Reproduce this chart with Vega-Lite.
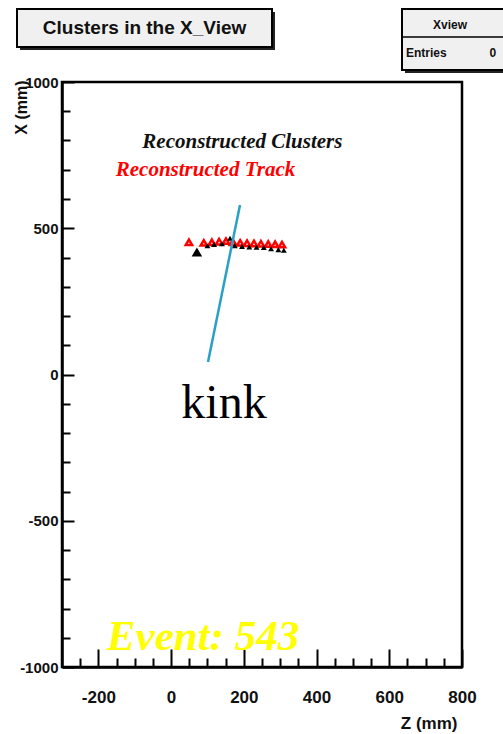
{
  "$schema": "https://vega.github.io/schema/vega-lite/v6.json",
  "width": 400,
  "height": 585,
  "autosize": {"type": "none"},
  "padding": {"left": 62, "top": 82, "right": 41, "bottom": 67},
  "background": "white",
  "config": {
    "view": {"stroke": "#000", "strokeWidth": 2.5, "fill": "white"},
    "axis": {"grid": false, "labelFlush": false, "labelOverlap": false, "domainColor": "#000", "domainWidth": 2.5, "tickColor": "#000", "tickWidth": 2}
  },
  "resolve": {"axis": {"x": "independent", "y": "independent"}},
  "layer": [
    {
      "data": {"values": [
        {"z1": -415.5, "z2": 285.75, "x1": 1239.3, "x2": 1109.4},
        {"z1": 643.25, "z2": 926.25, "x1": 1239.3, "x2": 1030.7}
      ]},
      "mark": {"type": "rect", "fill": "#222"},
      "encoding": {
        "x": {"field": "z1", "type": "quantitative", "axis": null},
        "x2": {"field": "z2"},
        "y": {"field": "x1", "type": "quantitative", "axis": null},
        "y2": {"field": "x2"}
      }
    },
    {
      "data": {"values": [
        {"z1": -423.75, "z2": 277.5, "x1": 1249.6, "x2": 1119.7},
        {"z1": 635, "z2": 918, "x1": 1249.6, "x2": 1041}
      ]},
      "mark": {"type": "rect", "fill": "#f0f0f0", "stroke": "#000", "strokeWidth": 2},
      "encoding": {
        "x": {"field": "z1", "type": "quantitative", "axis": null},
        "x2": {"field": "z2"},
        "y": {"field": "x1", "type": "quantitative", "axis": null},
        "y2": {"field": "x2"}
      }
    },
    {
      "data": {"values": [{"z1": 635, "z2": 918, "x": 1153.9}]},
      "mark": {"type": "rule", "stroke": "#000", "strokeWidth": 1.5},
      "encoding": {
        "x": {"field": "z1", "type": "quantitative", "axis": null},
        "x2": {"field": "z2"},
        "y": {"field": "x", "type": "quantitative", "axis": null}
      }
    },
    {
      "data": {"values": [{"label": "Clusters in the X_View", "z": -73, "x": 1184.6}]},
      "mark": {"type": "text", "font": "Liberation Sans", "fontWeight": "bold", "fontSize": 19, "align": "center", "baseline": "middle", "color": "#111"},
      "encoding": {
        "x": {"field": "z", "type": "quantitative", "axis": null},
        "y": {"field": "x", "type": "quantitative", "axis": null},
        "text": {"field": "label"}
      }
    },
    {
      "data": {"values": [{"label": "Xview", "z": 767, "x": 1194.9}]},
      "mark": {"type": "text", "font": "Liberation Sans", "fontWeight": "bold", "fontSize": 12, "align": "center", "baseline": "middle", "color": "#111"},
      "encoding": {
        "x": {"field": "z", "type": "quantitative", "axis": null},
        "y": {"field": "x", "type": "quantitative", "axis": null},
        "text": {"field": "label"}
      }
    },
    {
      "data": {"values": [{"label": "Entries", "z": 646, "x": 1099}]},
      "mark": {"type": "text", "font": "Liberation Sans", "fontWeight": "bold", "fontSize": 12, "align": "left", "baseline": "middle", "color": "#111"},
      "encoding": {
        "x": {"field": "z", "type": "quantitative", "axis": null},
        "y": {"field": "x", "type": "quantitative", "axis": null},
        "text": {"field": "label"}
      }
    },
    {
      "data": {"values": [{"label": "0", "z": 885, "x": 1099}]},
      "mark": {"type": "text", "font": "Liberation Sans", "fontWeight": "bold", "fontSize": 12, "align": "center", "baseline": "middle", "color": "#111"},
      "encoding": {
        "x": {"field": "z", "type": "quantitative", "axis": null},
        "y": {"field": "x", "type": "quantitative", "axis": null},
        "text": {"field": "label"}
      }
    },
    {
      "data": {"values": [{"label": "Reconstructed Clusters", "z": 196, "x": 774}]},
      "mark": {"type": "text", "font": "Liberation Serif", "fontWeight": "bold", "fontStyle": "italic", "fontSize": 21, "align": "center", "baseline": "alphabetic", "color": "#111"},
      "encoding": {
        "x": {"field": "z", "type": "quantitative", "axis": null},
        "y": {"field": "x", "type": "quantitative", "axis": null},
        "text": {"field": "label"}
      }
    },
    {
      "data": {"values": [{"label": "Reconstructed Track", "z": 94.6, "x": 678.6}]},
      "mark": {"type": "text", "font": "Liberation Serif", "fontWeight": "bold", "fontStyle": "italic", "fontSize": 21, "align": "center", "baseline": "alphabetic", "color": "#ff0000"},
      "encoding": {
        "x": {"field": "z", "type": "quantitative", "axis": null},
        "y": {"field": "x", "type": "quantitative", "axis": null},
        "text": {"field": "label"}
      }
    },
    {
      "data": {"values": [{"label": "Event: 543", "z": 87.75, "x": -942}]},
      "mark": {"type": "text", "font": "Liberation Serif", "fontWeight": "bold", "fontStyle": "italic", "fontSize": 43, "align": "center", "baseline": "alphabetic", "color": "#ffff00"},
      "encoding": {
        "x": {"field": "z", "type": "quantitative", "axis": null},
        "y": {"field": "x", "type": "quantitative", "axis": null},
        "text": {"field": "label"}
      }
    },
    {
      "data": {"values": [
        {"z": 49, "x": 452}, {"z": 90, "x": 450}, {"z": 112, "x": 452}, {"z": 132, "x": 454},
        {"z": 151, "x": 456}, {"z": 170, "x": 452}, {"z": 190, "x": 450}, {"z": 209, "x": 449},
        {"z": 228, "x": 448}, {"z": 247, "x": 447}, {"z": 267, "x": 446}, {"z": 286, "x": 445},
        {"z": 305, "x": 444}
      ]},
      "mark": {"type": "point", "shape": "triangle-up", "filled": false, "stroke": "#ff0000", "strokeWidth": 2.5, "opacity": 1, "size": 40},
      "encoding": {
        "x": {"field": "z", "type": "quantitative", "scale": {"domain": [-300, 800], "nice": false, "zero": false},
          "axis": {"orient": "bottom", "values": [-200, 0, 200, 400, 600, 800], "labelExpr": "'' + datum.value", "tickSize": -18, "labelPadding": 40, "labelBaseline": "top",
            "labelFont": "Liberation Sans", "labelFontWeight": "bold", "labelFontSize": 17, "labelColor": "#111",
            "title": "Z (mm)", "titleFont": "Liberation Sans", "titleFontWeight": "bold", "titleFontSize": 17, "titleColor": "#111",
            "titleX": 395, "titleY": 61, "titleAlign": "right", "titleBaseline": "alphabetic", "titleAngle": 0}},
        "y": {"field": "x", "type": "quantitative", "scale": {"domain": [-1000, 1000], "nice": false, "zero": false},
          "axis": {"orient": "left", "values": [-1000, -500, 0, 500, 1000], "labelExpr": "'' + datum.value", "tickSize": -12, "labelPadding": 16,
            "labelFont": "Liberation Sans", "labelFontWeight": "bold", "labelFontSize": 15, "labelColor": "#111",
            "title": "X (mm)", "titleFont": "Liberation Sans", "titleFontWeight": "bold", "titleFontSize": 16, "titleColor": "#111",
            "titleX": -41, "titleY": -2, "titleAngle": -90, "titleAlign": "right", "titleBaseline": "middle"}}
      }
    },
    {
      "data": {"values": [
        {"z": 100, "x": 440}, {"z": 118, "x": 445}, {"z": 140, "x": 447}, {"z": 162, "x": 466},
        {"z": 175, "x": 440}, {"z": 195, "x": 438}, {"z": 215, "x": 436}, {"z": 235, "x": 435},
        {"z": 255, "x": 434}, {"z": 275, "x": 430}, {"z": 295, "x": 427}, {"z": 310, "x": 425}
      ]},
      "mark": {"type": "point", "shape": "triangle-up", "filled": true, "color": "#000", "opacity": 1, "size": 35},
      "encoding": {
        "x": {"field": "z", "type": "quantitative",
          "axis": {"orient": "bottom", "values": [-250, -150, -100, -50, 50, 100, 150, 250, 300, 350, 450, 500, 550, 650, 700, 750],
            "tickSize": -9, "labels": false, "domain": false, "title": null}},
        "y": {"field": "x", "type": "quantitative",
          "axis": {"orient": "left", "values": [-900, -800, -700, -600, -400, -300, -200, -100, 100, 200, 300, 400, 600, 700, 800, 900],
            "tickSize": -8, "labels": false, "domain": false, "title": null}}
      }
    },
    {
      "data": {"values": [{"z": 71, "x": 419}]},
      "mark": {"type": "point", "shape": "triangle-up", "filled": true, "color": "#000", "opacity": 1, "size": 110},
      "encoding": {
        "x": {"field": "z", "type": "quantitative", "axis": null},
        "y": {"field": "x", "type": "quantitative", "axis": null}
      }
    },
    {
      "data": {"values": [{"z": 189.5, "x": 579.5}, {"z": 101.5, "x": 42.7}]},
      "mark": {"type": "line", "color": "#2aa0c6", "strokeWidth": 2.5},
      "encoding": {
        "x": {"field": "z", "type": "quantitative", "axis": null},
        "y": {"field": "x", "type": "quantitative", "axis": null}
      }
    },
    {
      "data": {"values": [{"label": "kink", "z": 145.5, "x": -148.8}]},
      "mark": {"type": "text", "font": "Liberation Serif", "fontSize": 48, "align": "center", "baseline": "alphabetic", "color": "#000"},
      "encoding": {
        "x": {"field": "z", "type": "quantitative", "axis": null},
        "y": {"field": "x", "type": "quantitative", "axis": null},
        "text": {"field": "label"}
      }
    }
  ]
}
